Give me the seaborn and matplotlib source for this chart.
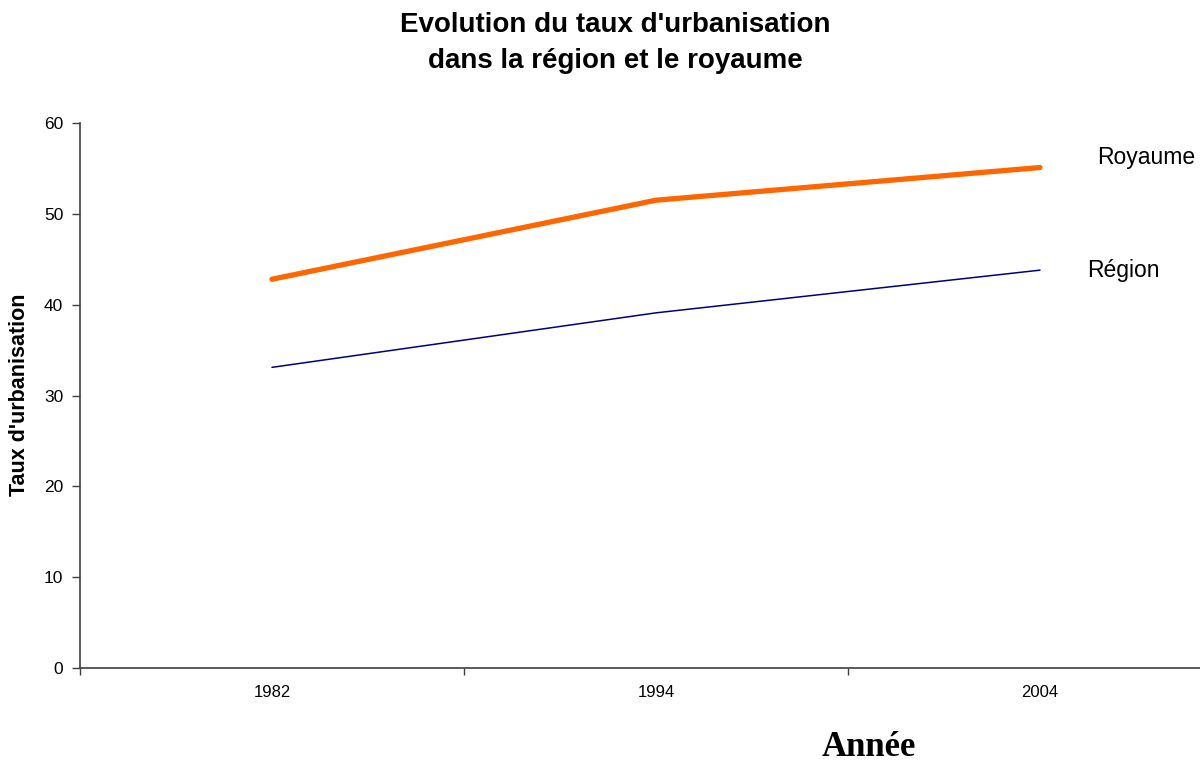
import pandas as pd
import matplotlib.pyplot as plt
import seaborn as sns

# Données
annees = ['1982', '1994', '2004']
royaume = [42.8, 51.5, 55.1]
region = [33.1, 39.1, 43.8]

df = pd.DataFrame({
    'annee': annees * 2,
    'taux': royaume + region,
    'serie': ['Royaume'] * 3 + ['Région'] * 3,
})

sns.set_style('white')
plt.rcParams['font.family'] = ['Liberation Sans', 'DejaVu Sans']
plt.rcParams['text.color'] = 'black'
plt.rcParams['xtick.color'] = 'black'
plt.rcParams['ytick.color'] = 'black'
plt.rcParams['axes.labelcolor'] = 'black'

fig = plt.figure(figsize=(12, 7.63), dpi=100)
ax = fig.add_axes([80 / 1200, 95 / 763, 1152 / 1200, 545 / 763])

sns.lineplot(data=df, x='annee', y='taux', hue='serie', size='serie',
             palette={'Royaume': '#FF6600', 'Région': '#000080'},
             sizes={'Royaume': 3.8, 'Région': 1.1},
             legend=False, sort=False, ax=ax)

ax.set_xlim(-0.5, 2.5)
ax.set_ylim(0, 60)
ax.set_yticks(range(0, 61, 10))

# graduations entre catégories, étiquettes au centre
ax.set_xticks([-0.5, 0.5, 1.5, 2.5])
ax.set_xticklabels([])
ax.set_xticks([0, 1, 2], minor=True)
ax.set_xticklabels(annees, minor=True)
ax.tick_params(axis='x', which='minor', bottom=True, length=0, pad=12, labelsize=12)
ax.tick_params(axis='x', which='major', bottom=True, direction='out', length=5, width=1,
               color='#404040')
ax.tick_params(axis='y', left=True, direction='out', length=6, width=1, color='#404040',
               labelsize=12.5, pad=6)

for s in ['top', 'right']:
    ax.spines[s].set_visible(False)
for s in ['left', 'bottom']:
    ax.spines[s].set_color('#404040')
    ax.spines[s].set_linewidth(1.2)

ax.set_xlabel('')
ax.set_ylabel('')
fig.text(20 / 1200, 1 - 395 / 763, "Taux d'urbanisation", rotation=90, ha='center', va='center',
         fontsize=15.5, fontweight='bold')

# étiquettes des séries
ax.annotate('Royaume', xy=(2, royaume[-1]), xytext=(57, 10), textcoords='offset pixels',
            fontsize=16.5, va='center', ha='left')
ax.annotate('Région', xy=(2, region[-1]), xytext=(47, 0), textcoords='offset pixels',
            fontsize=16.5, va='center', ha='left')

fig.text(615 / 1200, 1 - 43 / 763, "Evolution du taux d'urbanisation\ndans la région et le royaume",
         ha='center', va='center', fontsize=20, fontweight='bold', linespacing=1.45)
fig.text(869 / 1200, 1 - 748 / 763, 'Année', ha='center', va='center', fontsize=25,
         fontweight='bold', family=['Liberation Serif', 'DejaVu Serif'])

fig.savefig('out.png', dpi=100)
